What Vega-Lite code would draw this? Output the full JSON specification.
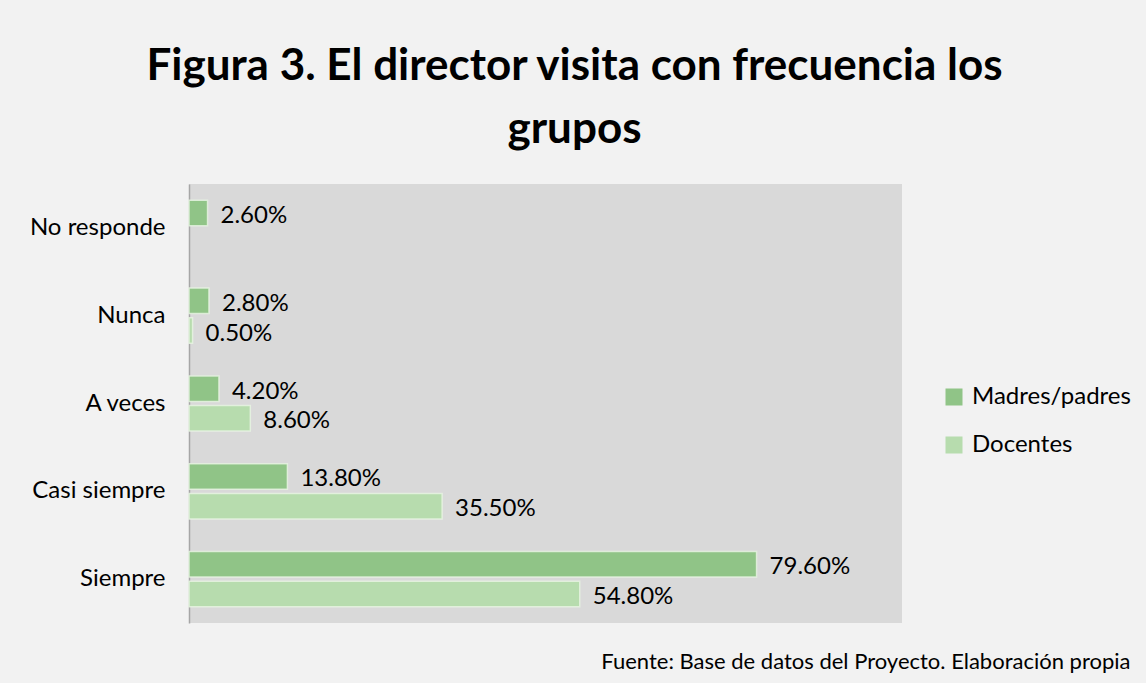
{
  "$schema": "https://vega.github.io/schema/vega-lite/v6.json",
  "autosize": {"type": "none"},
  "width": 713,
  "height": 439,
  "padding": {"left": 189, "top": 184, "right": 244, "bottom": 60},
  "background": "#f2f2f2",
  "config": {
    "font": "Lato",
    "view": {"fill": "#d9d9d9", "stroke": null}
  },
  "title": {
    "text": ["Figura 3. El director visita con frecuencia los", "grupos"],
    "font": "Lato",
    "fontSize": 44,
    "fontWeight": "bold",
    "color": "#000000",
    "anchor": "middle",
    "frame": "group",
    "dx": 29,
    "offset": 32,
    "lineHeight": 63
  },
  "data": {
    "values": [
      {"cat": "No responde", "grupo": "Madres/padres", "v": 0.026},
      {"cat": "Nunca", "grupo": "Madres/padres", "v": 0.028},
      {"cat": "Nunca", "grupo": "Docentes", "v": 0.005},
      {"cat": "A veces", "grupo": "Madres/padres", "v": 0.042},
      {"cat": "A veces", "grupo": "Docentes", "v": 0.086},
      {"cat": "Casi siempre", "grupo": "Madres/padres", "v": 0.138},
      {"cat": "Casi siempre", "grupo": "Docentes", "v": 0.355},
      {"cat": "Siempre", "grupo": "Madres/padres", "v": 0.796},
      {"cat": "Siempre", "grupo": "Docentes", "v": 0.548}
    ]
  },
  "encoding": {
    "y": {
      "field": "cat",
      "type": "nominal",
      "sort": ["No responde", "Nunca", "A veces", "Casi siempre", "Siempre"],
      "scale": {"paddingInner": 0, "paddingOuter": 0},
      "axis": {
        "title": null,
        "ticks": false,
        "domain": true,
        "domainColor": "#a6a6a6",
        "domainWidth": 1.5,
        "labelFont": "Lato",
        "labelFontSize": 24,
        "labelColor": "#000000",
        "labelPadding": 24
      }
    },
    "yOffset": {
      "field": "grupo",
      "type": "nominal",
      "sort": ["Madres/padres", "Docentes"],
      "scale": {"paddingInner": 0.14, "paddingOuter": 0.55}
    },
    "x": {
      "field": "v",
      "type": "quantitative",
      "scale": {"domain": [0, 1], "nice": false},
      "axis": {
        "grid": false,
        "domain": false,
        "ticks": false,
        "labels": false,
        "title": "Fuente: Base de datos del Proyecto. Elaboración propia",
        "titleFont": "Lato",
        "titleFontSize": 22,
        "titleFontWeight": "normal",
        "titleColor": "#000000",
        "titleAnchor": "end",
        "titleAlign": "right",
        "titleX": 941,
        "titleY": 45,
        "titleBaseline": "alphabetic"
      }
    }
  },
  "layer": [
    {
      "mark": {"type": "bar", "stroke": "#e8f5e4", "strokeWidth": 1.5, "strokeOpacity": 0.8},
      "encoding": {
        "color": {
          "field": "grupo",
          "type": "nominal",
          "sort": ["Madres/padres", "Docentes"],
          "scale": {"domain": ["Madres/padres", "Docentes"], "range": ["#90c487", "#b7dcae"]},
          "legend": {
            "title": null,
            "orient": "none",
            "legendX": 753,
            "legendY": 201,
            "symbolType": "square",
            "symbolSize": 289,
            "symbolStrokeWidth": 0,
            "labelFont": "Lato",
            "labelFontSize": 24,
            "labelColor": "#000000",
            "rowPadding": 24,
            "labelOffset": 6
          }
        }
      }
    },
    {
      "mark": {"type": "text", "align": "left", "dx": 13, "dy": 3, "fontSize": 24, "font": "Lato", "color": "#000000"},
      "encoding": {
        "text": {"field": "v", "type": "quantitative", "format": ".2%"}
      }
    }
  ]
}
